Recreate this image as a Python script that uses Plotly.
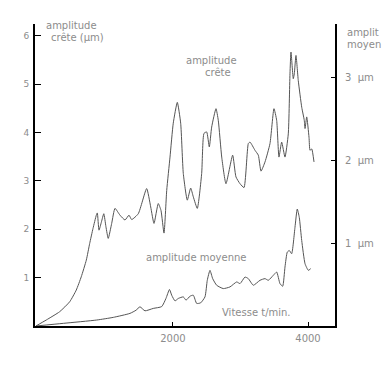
import plotly.graph_objects as go

# Vitesse (t/min) and amplitude crête (µm, left axis)
crete_x = [-30, 123, 321, 470, 567, 641, 716, 766, 815, 864, 879, 904, 940, 975, 1007, 1041, 1092, 1141,
           1215, 1289, 1348, 1388, 1486, 1610, 1670, 1719, 1782, 1822, 1867, 1907, 1956,
           2004, 2064, 2114, 2153, 2212, 2262, 2301, 2360, 2425, 2459, 2499, 2538, 2573,
           2637, 2671, 2722, 2785, 2884, 2933, 2993, 3052, 3116, 3141, 3215, 3264, 3304,
           3363, 3437, 3496, 3536, 3570, 3610, 3659, 3708, 3733, 3748, 3782, 3797, 3822,
           3856, 3907, 3945, 3956, 3981, 4015, 4030, 4055, 4089]
crete_y = [0.0, 0.124, 0.295, 0.501, 0.742, 1.016, 1.361, 1.705, 2.014, 2.289, 2.336, 1.98, 2.15, 2.32, 2.05, 1.81, 2.12, 2.43,
           2.29, 2.19, 2.29, 2.20, 2.32, 2.84, 2.46, 2.12, 2.53, 2.39, 1.92, 2.80, 3.49,
           4.19, 4.62, 4.19, 3.15, 2.60, 2.85, 2.67, 2.43, 3.15, 3.98, 4.01, 3.70, 4.11,
           4.49, 4.25, 3.49, 2.94, 3.53, 3.08, 2.94, 2.86, 3.77, 3.80, 3.63, 3.53, 3.20,
           3.39, 3.77, 4.49, 4.25, 3.49, 3.80, 3.49, 3.97, 5.21, 5.66, 5.11, 5.21, 5.59,
           5.07, 4.52, 4.25, 4.08, 4.32, 3.90, 3.63, 3.66, 3.39]

# amplitude moyenne (µm, right axis)
moy_x = [-30, 375, 870, 1116, 1363, 1452, 1511, 1585, 1708, 1833, 1896, 1948, 1981, 2030,
         2079, 2153, 2193, 2252, 2301, 2351, 2410, 2474, 2508, 2548, 2588, 2647, 2745,
         2844, 2944, 2993, 3067, 3116, 3190, 3289, 3363, 3412, 3486, 3536, 3585, 3625,
         3659, 3693, 3723, 3758, 3807, 3841, 3871, 3907, 3956, 4005, 4040]
moy_y = [0.0, 0.032, 0.072, 0.104, 0.152, 0.19, 0.231, 0.183, 0.212, 0.234, 0.332, 0.44, 0.371, 0.303,
         0.332, 0.351, 0.311, 0.359, 0.371, 0.272, 0.279, 0.351, 0.551, 0.671, 0.571, 0.491, 0.451,
         0.471, 0.531, 0.511, 0.590, 0.571, 0.491, 0.551, 0.571, 0.551, 0.611, 0.650, 0.511, 0.479,
         0.710, 0.890, 0.910, 0.871, 1.189, 1.410, 1.309, 1.030, 0.751, 0.671, 0.691]

left_ticks = [1, 2, 3, 4, 5, 6]
left_labels = ["1", "2", "3", "4", "5", "6"]
right_ticks = [1, 2, 3]
right_labels = ["1  µm", "2  µm", "3  µm"]
x_ticks = [2000, 4000]
x_labels = ["2000", "4000"]

CURVE = "#555555"
TXT = "#8c8c8c"
FONT = "DejaVu Sans"

fig = go.Figure()
fig.add_trace(go.Scatter(x=crete_x, y=crete_y, mode="lines",
                         line=dict(color=CURVE, width=1, shape="spline", smoothing=0.5),
                         showlegend=False, hoverinfo="skip"))
fig.add_trace(go.Scatter(x=moy_x, y=moy_y, mode="lines", yaxis="y2",
                         line=dict(color=CURVE, width=1, shape="spline", smoothing=0.5),
                         showlegend=False, hoverinfo="skip"))

# page body has an 8px margin: figure drawn at (8, 8) in the 390x366 window
OFF = 8
W, H = 390 - OFF, 366 - OFF
L, T = 35 - OFF, 24 - OFF
pw, ph = 300, 302
R, B = W - L - pw, H - T - ph


def px(xp):
    return (xp - 35) / pw


def py(yp):
    return (326 - yp) / ph


annots = [
    ("amplitude", 44, 25),
    ("crête (µm)", 49, 37),
    ("amplitude", 184, 60),
    ("crête", 203, 72),
    ("amplit", 345, 32),
    ("moyen", 345, 44),
    ("amplitude moyenne", 144, 257),
    ("Vitesse t/min.", 220, 312),
]
for txt, xp, yp in annots:
    fig.add_annotation(text=txt, x=px(xp), y=py(yp), xref="paper", yref="paper",
                       xanchor="left", yanchor="middle", showarrow=False,
                       font=dict(family=FONT, size=10, color=TXT))

fig.update_layout(
    width=W, height=H,
    margin=dict(l=L, r=R, t=T, b=B),
    paper_bgcolor="white", plot_bgcolor="white",
    xaxis=dict(range=[-44, 4400], tickvals=x_ticks, ticktext=x_labels,
               showgrid=False, zeroline=False, showline=True, linecolor="black", linewidth=2,
               ticks="inside", ticklen=4, tickcolor="black", tickwidth=1,
               tickfont=dict(family=FONT, size=10, color=TXT), ticklabelstandoff=2),
    yaxis=dict(range=[0, 6.24], tickvals=left_ticks, ticktext=left_labels,
               showgrid=False, zeroline=False, showline=True, linecolor="black", linewidth=2,
               ticks="inside", ticklen=6, tickcolor="black", tickwidth=1,
               tickfont=dict(family=FONT, size=9, color=TXT), ticklabelstandoff=2),
    yaxis2=dict(range=[0, 3.64], tickvals=right_ticks, ticktext=right_labels,
                overlaying="y", side="right",
                showgrid=False, zeroline=False, showline=True, linecolor="black", linewidth=2,
                ticks="inside", ticklen=4, tickcolor="black", tickwidth=1,
                tickfont=dict(family=FONT, size=10, color=TXT), ticklabelstandoff=6),
)

fig.write_html("out.html")
